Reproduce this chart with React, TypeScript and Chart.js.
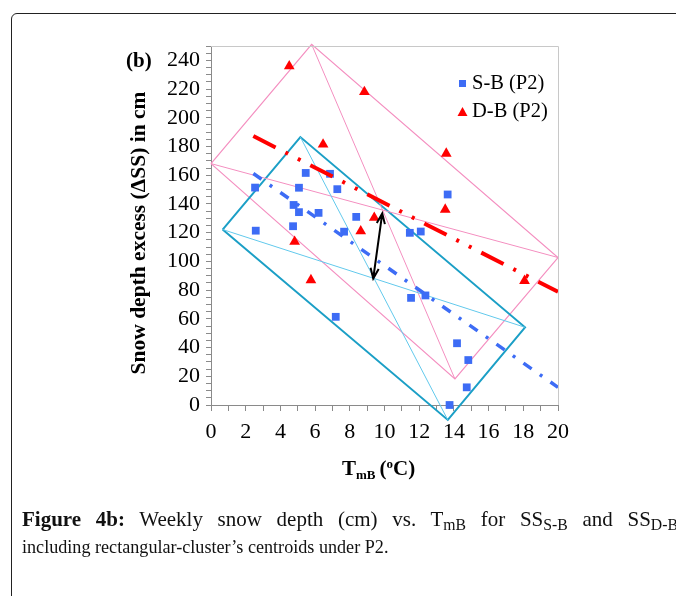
import React, { useEffect, useRef } from "react";
import { Chart, registerables } from "chart.js";
Chart.register(...registerables);

// ---- data ----
const sbX = [5.46, 6.86, 2.54, 5.07, 7.28, 4.76, 5.07, 6.2, 8.37, 4.73, 2.58, 7.67, 11.46, 12.09, 13.64, 7.19, 11.53, 12.36, 14.18, 14.83, 14.74, 13.75];
const sbY = [161.6, 161.0, 151.4, 151.3, 150.3, 139.3, 134.3, 133.8, 131.0, 124.5, 121.4, 120.7, 119.9, 120.8, 146.6, 61.4, 74.6, 76.3, 43.0, 31.3, 12.3, 0];
const dbX = [4.51, 8.84, 6.46, 13.56, 13.5, 9.41, 8.63, 4.82, 5.76, 18.07];
const dbY = [236.0, 218.0, 181.4, 175.1, 136.1, 130.4, 121.0, 113.7, 87.0, 86.5];
const sbTrendX = [2.44, 20];
const sbTrendY = [161.2, 12.3];
const dbTrendX = [2.44, 20];
const dbTrendY = [187.3, 78.8];
const sbRectX = [0.67, 5.15, 18.1, 13.65, 0.67];
const sbRectY = [122.2, 186.6, 54.1, -10.4, 122.2];
const dbRectX = [0, 5.8, 20, 14.06, 0];
const dbRectY = [168.1, 251.1, 102.7, 18.1, 168.1];
const arrowX = [9.35, 9.87];
const arrowY = [88.1, 133.4];
const xMin = 0, xMax = 20, xStep = 1, xLabelEvery = 2;
const yMin = 0, yMax = 250, yStep = 5, yLabelEvery = 20;
const legendLabels = ["S-B (P2)", "D-B (P2)"];

const BLUE = "rgb(61,108,245)";
const RED = "#ff0000";
const TEAL = "#1b9fc6";
const CYAN = "#62c9ec";
const PINK = "#f48fc0";
const SERIF = "'Liberation Serif', 'Times New Roman', serif";

const pts = (xs: number[], ys: number[]) => xs.map((x, i) => ({ x, y: ys[i] }));

const decor = {
  id: "decor",
  afterDraw(chart: any) {
    const { ctx, chartArea: a, scales } = chart;
    const xs = scales.x, ys = scales.y;
    ctx.save();
    ctx.strokeStyle = "#c8c8c8";
    ctx.lineWidth = 1;
    ctx.beginPath();
    ctx.moveTo(a.left, a.top + 0.5);
    ctx.lineTo(a.right + 0.5, a.top + 0.5);
    ctx.lineTo(a.right + 0.5, a.bottom);
    ctx.stroke();

    const x1 = xs.getPixelForValue(arrowX[0]), y1 = ys.getPixelForValue(arrowY[0]);
    const x2 = xs.getPixelForValue(arrowX[1]), y2 = ys.getPixelForValue(arrowY[1]);
    ctx.strokeStyle = "#000";
    ctx.lineWidth = 2;
    ctx.beginPath();
    ctx.moveTo(x1, y1);
    ctx.lineTo(x2, y2);
    const head = (px: number, py: number, qx: number, qy: number) => {
      const ang = Math.atan2(py - qy, px - qx);
      const L = 11, sp = 0.38;
      ctx.moveTo(px - L * Math.cos(ang - sp), py - L * Math.sin(ang - sp));
      ctx.lineTo(px, py);
      ctx.lineTo(px - L * Math.cos(ang + sp), py - L * Math.sin(ang + sp));
    };
    head(x1, y1, x2, y2);
    head(x2, y2, x1, y1);
    ctx.stroke();

    ctx.fillStyle = "#000";
    ctx.save();
    ctx.translate(139, 233);
    ctx.rotate(-Math.PI / 2);
    ctx.font = `bold 21.5px ${SERIF}`;
    ctx.textAlign = "center";
    ctx.textBaseline = "middle";
    ctx.fillText("Snow depth excess (\u0394SS) in cm", 0, 0);
    ctx.restore();

    ctx.textBaseline = "alphabetic";
    ctx.textAlign = "left";
    let cx = 342;
    const by = 475;
    ctx.font = `bold 21px ${SERIF}`;
    ctx.fillText("T", cx, by);
    cx += ctx.measureText("T").width;
    ctx.font = `bold 13px ${SERIF}`;
    ctx.fillText("mB", cx, by + 4);
    cx += ctx.measureText("mB").width + 4;
    ctx.font = `bold 21px ${SERIF}`;
    ctx.fillText("(", cx, by);
    cx += ctx.measureText("(").width;
    ctx.font = `bold 13px ${SERIF}`;
    ctx.fillText("o", cx, by - 7);
    cx += ctx.measureText("o").width;
    ctx.font = `bold 21px ${SERIF}`;
    ctx.fillText("C)", cx, by);

    ctx.font = `bold 21px ${SERIF}`;
    ctx.fillText("(b)", 126, 67);

    ctx.font = `20.5px ${SERIF}`;
    ctx.textBaseline = "middle";
    ctx.fillStyle = BLUE;
    ctx.fillRect(459, 80, 7, 7);
    ctx.fillStyle = RED;
    ctx.beginPath();
    ctx.moveTo(462.5, 107);
    ctx.lineTo(467.5, 116);
    ctx.lineTo(457.5, 116);
    ctx.closePath();
    ctx.fill();
    ctx.fillStyle = "#000";
    ctx.fillText(legendLabels[0], 472, 84);
    ctx.fillText(legendLabels[1], 472, 112);
    ctx.restore();
  },
};

const subStyle: React.CSSProperties = { fontSize: "0.75em", verticalAlign: "baseline", position: "relative", top: "0.28em", lineHeight: 0 };

export default function App() {
  const ref = useRef<HTMLCanvasElement>(null);
  useEffect(() => {
    if (!ref.current) return;
    const chart = new Chart(ref.current, {
      type: "scatter",
      data: {
        datasets: [
          { label: "dbTrend", data: pts(dbTrendX, dbTrendY), showLine: true, borderColor: RED, borderWidth: 4, borderDash: [25, 11, 3, 11, 3, 11], pointRadius: 0, clip: false } as any,
          { label: "sbTrend", data: pts(sbTrendX, sbTrendY), showLine: true, borderColor: BLUE, borderWidth: 3.5, borderDash: [10, 10, 3, 10], pointRadius: 0, clip: false } as any,
          { label: legendLabels[0], data: pts(sbX, sbY), pointStyle: "rect", pointRadius: 5.5, backgroundColor: BLUE, borderWidth: 0, clip: false } as any,
          { label: legendLabels[1], data: pts(dbX, dbY), pointStyle: "triangle", pointRadius: 6.2, backgroundColor: RED, borderWidth: 0, clip: false } as any,
          { label: "sbDiag1", data: pts([sbRectX[0], sbRectX[2]], [sbRectY[0], sbRectY[2]]), showLine: true, borderColor: CYAN, borderWidth: 1, pointRadius: 0, clip: false } as any,
          { label: "sbDiag2", data: pts([sbRectX[1], sbRectX[3]], [sbRectY[1], sbRectY[3]]), showLine: true, borderColor: CYAN, borderWidth: 1, pointRadius: 0, clip: false } as any,
          { label: "dbDiag1", data: pts([dbRectX[0], dbRectX[2]], [dbRectY[0], dbRectY[2]]), showLine: true, borderColor: PINK, borderWidth: 1, pointRadius: 0, clip: false } as any,
          { label: "dbDiag2", data: pts([dbRectX[1], dbRectX[3]], [dbRectY[1], dbRectY[3]]), showLine: true, borderColor: PINK, borderWidth: 1, pointRadius: 0, clip: false } as any,
          { label: "sbRect", data: pts(sbRectX, sbRectY), showLine: true, borderColor: TEAL, borderWidth: 2, pointRadius: 0, clip: false } as any,
          { label: "dbRect", data: pts(dbRectX, dbRectY), showLine: true, borderColor: PINK, borderWidth: 1.2, pointRadius: 0, clip: false } as any,
        ],
      },
      options: {
        animation: false,
        responsive: false,
        devicePixelRatio: 1,
        events: [],
        layout: { padding: { left: 0, top: 46, right: 118, bottom: 0 } },
        plugins: { legend: { display: false }, tooltip: { enabled: false } },
        scales: {
          x: {
            type: "linear",
            min: xMin,
            max: xMax,
            afterFit: (s: any) => { s.height = 191; },
            grid: { drawOnChartArea: false, tickLength: 6, color: "#8a8a8a" },
            border: { color: "#8a8a8a" },
            ticks: {
              stepSize: xStep,
              maxTicksLimit: 100,
              autoSkip: false,
              maxRotation: 0,
              padding: 8,
              color: "#000",
              font: { family: SERIF, size: 22 },
              callback: (v: any) => (Number(v) % xLabelEvery === 0 ? String(v) : ""),
            },
          },
          y: {
            type: "linear",
            min: yMin,
            max: yMax,
            afterFit: (s: any) => { s.width = 211; },
            grid: { drawOnChartArea: false, tickLength: 5, color: "#8a8a8a" },
            border: { color: "#8a8a8a" },
            ticks: {
              stepSize: yStep,
              maxTicksLimit: 100,
              autoSkip: false,
              padding: 6,
              color: "#000",
              font: { family: SERIF, size: 22 },
              callback: (v: any) => (Number(v) % yLabelEvery === 0 ? String(v) : ""),
            },
          },
        },
      } as any,
      plugins: [decor],
    });
    return () => chart.destroy();
  }, []);

  return (
    <div style={{ position: "fixed", left: 0, top: 0, width: 676, height: 596, overflow: "hidden", background: "#fff" }}>
      <div style={{ position: "absolute", left: 11, top: 13, width: 720, height: 700, border: "1px solid #222", borderRadius: 6, boxSizing: "border-box" }} />
      <canvas ref={ref} width={676} height={596} style={{ position: "absolute", left: 0, top: 0, width: 676, height: 596 }} />
      <div style={{ position: "absolute", left: 22, top: 506, width: 656, fontFamily: SERIF, fontSize: 19.5, lineHeight: "27px", color: "#111" }}>
        <div style={{ whiteSpace: "nowrap", textAlign: "justify", textAlignLast: "justify" as any, fontSize: 21 }}>
          <b style={{ fontSize: 21 }}>Figure 4b:</b> Weekly snow depth (cm) vs. T<sub style={subStyle}>mB</sub> for SS<sub style={subStyle}>S-B</sub> and SS<sub style={subStyle}>D-B</sub>
        </div>
        <div style={{ whiteSpace: "nowrap", transform: "scaleX(0.93)", transformOrigin: "0 0" }}>including rectangular-cluster’s centroids under P2.</div>
      </div>
    </div>
  );
}
